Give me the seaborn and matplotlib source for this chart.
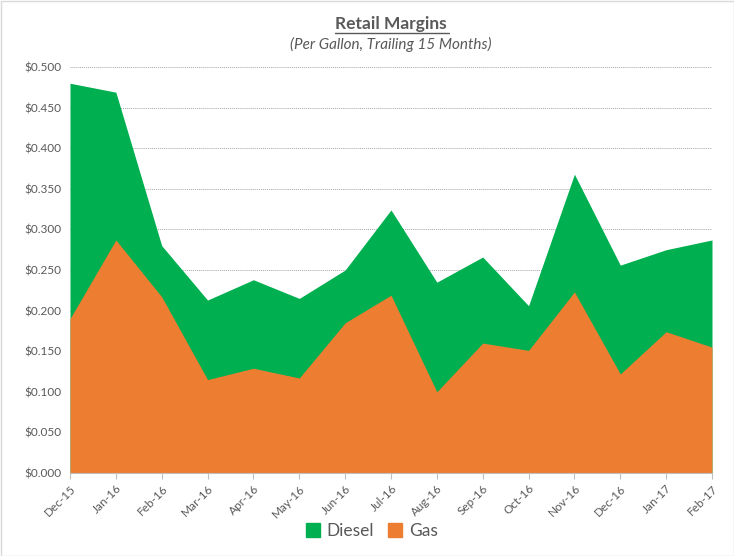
import matplotlib
matplotlib.use("Agg")
import matplotlib.pyplot as plt
import seaborn as sns
import pandas as pd
import numpy as np
from matplotlib.patches import Patch, Rectangle

months = ["Dec-15", "Jan-16", "Feb-16", "Mar-16", "Apr-16", "May-16", "Jun-16", "Jul-16",
          "Aug-16", "Sep-16", "Oct-16", "Nov-16", "Dec-16", "Jan-17", "Feb-17"]
diesel = [0.480, 0.469, 0.280, 0.213, 0.238, 0.215, 0.250, 0.324,
          0.235, 0.266, 0.206, 0.368, 0.256, 0.275, 0.287]
gas = [0.190, 0.287, 0.217, 0.115, 0.129, 0.117, 0.185, 0.219,
       0.100, 0.160, 0.151, 0.223, 0.122, 0.174, 0.155]
yticks = [0.0, 0.05, 0.1, 0.15, 0.2, 0.25, 0.3, 0.35, 0.4, 0.45, 0.5]

GREEN = "#00B050"
ORANGE = "#ED7D31"
TXT = "#595959"

sns.set_style("white")
plt.rcParams["font.family"] = ["Lato", "DejaVu Sans"]

df = pd.DataFrame({"month": months, "x": np.arange(len(months)), "Diesel": diesel, "Gas": gas})

fig = plt.figure(figsize=(7.34, 5.56), dpi=100)
ax = fig.add_axes([70/734, 83/556, 642/734, 406/556])

sns.lineplot(data=df, x="x", y="Diesel", ax=ax, color=GREEN, linewidth=0)
sns.lineplot(data=df, x="x", y="Gas", ax=ax, color=ORANGE, linewidth=0)
ax.fill_between(df["x"], 0, df["Diesel"], color=GREEN, linewidth=0, zorder=2)
ax.fill_between(df["x"], 0, df["Gas"], color=ORANGE, linewidth=0, zorder=3)

ax.set_xlim(0, len(months) - 1)
ax.set_ylim(0, 0.5)
ax.set_yticks(yticks)
ax.set_yticklabels([f"${v:.3f}" for v in yticks], fontsize=8.5, color=TXT)
ax.set_xticks(df["x"])
ax.set_xticklabels(months, rotation=45, ha="right", rotation_mode="anchor", fontsize=8.5, color=TXT)
ax.tick_params(axis="x", length=4, color="#BFBFBF", direction="out", bottom=True, pad=3)
ax.tick_params(axis="y", length=0, pad=6)
ax.set_xlabel("")
ax.set_ylabel("")
ax.grid(axis="y", linestyle=(0, (1, 1)), color="#A6A6A6", linewidth=0.7, zorder=1)
ax.set_axisbelow(True)
for s in ["top", "right", "left"]:
    ax.spines[s].set_visible(False)
ax.spines["bottom"].set_color("#BFBFBF")
ax.spines["bottom"].set_zorder(5)

fig.text(391/734, 1 - 24/556, "Retail Margins", ha="center", va="center",
         fontsize=12.5, fontweight="bold", color=TXT)
# underline
fig.add_artist(matplotlib.lines.Line2D([335/734, 449/734], [1 - 33/556, 1 - 33/556],
                                       color=TXT, linewidth=1.0))
fig.text(391/734, 1 - 44/556, "(Per Gallon, Trailing 15 Months)", ha="center", va="center",
         fontsize=11, fontstyle="italic", color=TXT)

handles = [Patch(color=GREEN, label="Diesel"), Patch(color=ORANGE, label="Gas")]
fig.legend(handles=handles, loc="center", bbox_to_anchor=(372/734, 1 - 531/556), ncol=2,
           frameon=False, fontsize=12.5, handlelength=0.8, handleheight=0.8,
           handletextpad=0.4, columnspacing=0.8, labelcolor=TXT)

fig.add_artist(Rectangle((0.5/734, 0.5/556), 1 - 1/734, 1 - 1/556, transform=fig.transFigure,
                         fill=False, edgecolor="#D9D9D9", linewidth=1))

fig.savefig("out.png", dpi=100)
